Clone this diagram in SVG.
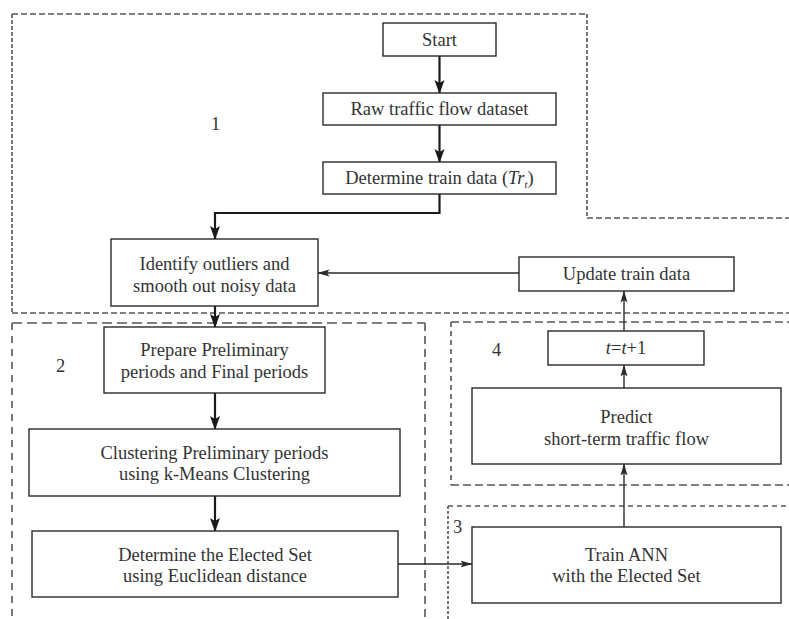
<svg xmlns="http://www.w3.org/2000/svg" width="789" height="619" viewBox="0 0 789 619">
<defs>
<style>
.box{fill:#fff;stroke:#2a2a2a;stroke-width:1.4}
.t{font-family:"Liberation Serif","Times New Roman",serif;font-size:18.5px;fill:#333;text-anchor:middle}
.num{font-family:"Liberation Serif","Times New Roman",serif;font-size:18.5px;fill:#333}
.thick{fill:none;stroke:#1a1a1a;stroke-width:2.2;marker-end:url(#ah)}
.thin{fill:none;stroke:#2a2a2a;stroke-width:1.4;marker-end:url(#as)}
.reg{fill:none;stroke:#555;stroke-width:1.6}
</style>
<marker id="ah" markerUnits="userSpaceOnUse" markerWidth="14" markerHeight="12" viewBox="0 0 14 12" refX="13" refY="6" orient="auto">
<path d="M0,1 L14,6 L0,11 L3,6 Z" fill="#1a1a1a"/>
</marker>
<marker id="as" markerUnits="userSpaceOnUse" markerWidth="12" markerHeight="10" viewBox="0 0 12 10" refX="11.5" refY="5" orient="auto">
<path d="M0,1.5 L12,5 L0,8.5 L2.5,5 Z" fill="#2a2a2a"/>
</marker>
</defs>

<g id="regions">
<g id="region1">
<path class="reg" stroke-dasharray="6 3" d="M12,14 H587"/>
<path class="reg" stroke-dasharray="4 2" d="M12,14 V313 M587,14 V218"/>
<path class="reg" stroke-dasharray="6 3" d="M587,218 H789 M12,313 H789"/>
<text class="num" x="211" y="130">1</text>
</g>
<g id="region2">
<path class="reg" stroke-dasharray="10 5" d="M12,323 H425"/>
<path class="reg" stroke-dasharray="7 6" d="M12,323 V619"/>
<path class="reg" stroke-dasharray="8 5" d="M425,323 V619"/>
<text class="num" x="56" y="372">2</text>
</g>
<g id="region4">
<path class="reg" stroke-dasharray="8 4" d="M451,322 H789 M451,485 H789"/>
<path class="reg" stroke-dasharray="5 4" d="M451,322 V485"/>
<text class="num" x="492" y="356">4</text>
</g>
<g id="region3">
<path class="reg" stroke-dasharray="5 4" d="M448,506 H789"/>
<path class="reg" stroke-width="1.2" stroke-dasharray="3 2" d="M448,506 V619"/>
<text class="num" x="453" y="533">3</text>
</g>
</g>

<g id="connectors">
<path class="thick" d="M439.5,56 V93"/>
<path class="thick" d="M439.5,125 V162"/>
<path class="thick" d="M439.5,194 V213 H215 V239"/>
<path class="thick" d="M215,306 V327"/>
<path class="thick" d="M215,393 V429"/>
<path class="thick" d="M215,496 V531"/>
<path class="thin" d="M519,273 H318"/>
<path class="thin" d="M398,564 H472"/>
<path class="thin" d="M624,527 V464"/>
<path class="thin" d="M624,388 V365"/>
<path class="thin" d="M624,331 V291"/>
</g>

<g id="start">
<rect class="box" x="383" y="23" width="113" height="33"/>
<text class="t" x="439.5" y="46">Start</text>
</g>
<g id="raw">
<rect class="box" x="323" y="93" width="233" height="32"/>
<text class="t" x="439.5" y="115">Raw traffic flow dataset</text>
</g>
<g id="determine-train">
<rect class="box" x="323" y="162" width="233" height="32"/>
<text class="t" x="439.5" y="184">Determine train data (<tspan font-style="italic">Tr</tspan><tspan font-style="italic" font-size="11" dy="4">t</tspan><tspan dy="-4">)</tspan></text>
</g>
<g id="identify">
<rect class="box" x="111" y="239" width="207" height="67"/>
<text class="t" x="214.5" y="270">Identify outliers and</text>
<text class="t" x="214.5" y="292">smooth out noisy data</text>
</g>
<g id="update">
<rect class="box" x="519" y="257" width="215" height="34"/>
<text class="t" x="626.5" y="280">Update train data</text>
</g>
<g id="prepare">
<rect class="box" x="104" y="327" width="221" height="66"/>
<text class="t" x="214.5" y="356">Prepare Preliminary</text>
<text class="t" x="214.5" y="378">periods and Final periods</text>
</g>
<g id="clustering">
<rect class="box" x="29" y="429" width="371" height="67"/>
<text class="t" x="214.5" y="459">Clustering Preliminary periods</text>
<text class="t" x="214.5" y="480">using k-Means Clustering</text>
</g>
<g id="elected">
<rect class="box" x="32" y="531" width="366" height="66"/>
<text class="t" x="215" y="561">Determine the Elected Set</text>
<text class="t" x="215" y="582">using Euclidean distance</text>
</g>
<g id="train-ann">
<rect class="box" x="472" y="527" width="309" height="76"/>
<text class="t" x="626.5" y="561">Train ANN</text>
<text class="t" x="626.5" y="582">with the Elected Set</text>
</g>
<g id="predict">
<rect class="box" x="472" y="388" width="309" height="76"/>
<text class="t" x="626.5" y="423">Predict</text>
<text class="t" x="626.5" y="445">short-term traffic flow</text>
</g>
<g id="tplus">
<rect class="box" x="548" y="331" width="156" height="34"/>
<text class="t" x="626" y="354"><tspan font-style="italic">t</tspan>=<tspan font-style="italic">t</tspan>+1</text>
</g>
</svg>
